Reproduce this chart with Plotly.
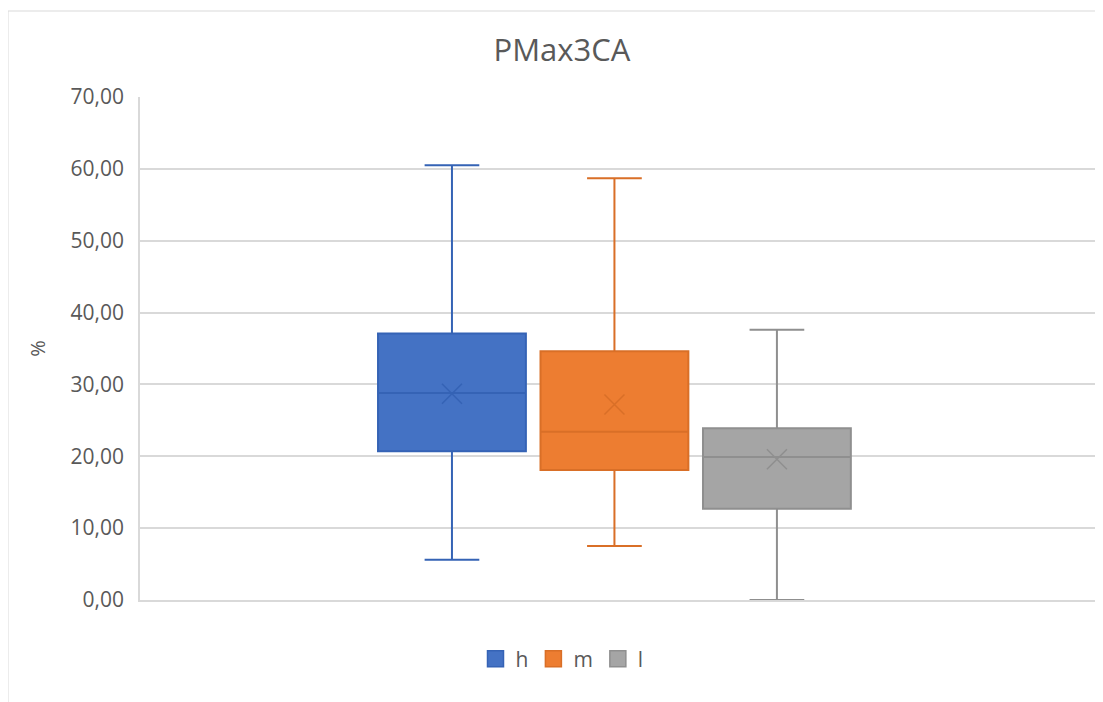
import plotly.graph_objects as go

categories = ["h", "m", "l"]
lower_whisker = [5.6, 7.5, 0.0]
q1_vals = [20.7, 18.1, 12.7]
medians = [28.8, 23.4, 19.9]
q3_vals = [37.1, 34.6, 23.9]
upper_whisker = [60.5, 58.7, 37.6]
means = [28.7, 27.2, 19.6]

fill_colors = ["#4472C4", "#ED7D31", "#A5A5A5"]
line_colors = ["#3563B5", "#D96F27", "#8F8F8F"]

fig = go.Figure()
for i, cat in enumerate(categories):
    fig.add_trace(go.Box(
        name=cat, x=[i], q1=[q1_vals[i]], median=[medians[i]], q3=[q3_vals[i]],
        lowerfence=[lower_whisker[i]], upperfence=[upper_whisker[i]],
        fillcolor=fill_colors[i], line=dict(color=line_colors[i], width=2),
        width=0.91, whiskerwidth=0.37, boxpoints=False, hoverinfo="skip",
        showlegend=False,
    ))
for i, cat in enumerate(categories):
    fig.add_trace(go.Scatter(
        x=[i], y=[means[i]], mode="markers", showlegend=False,
        marker=dict(symbol="x-thin", size=20, line=dict(color=line_colors[i], width=1.5)),
        hoverinfo="skip",
    ))
# legend entries
for i, cat in enumerate(categories):
    fig.add_trace(go.Scatter(
        name=cat, x=[None], y=[None], mode="markers", showlegend=True,
        marker=dict(symbol="square", size=20, color=fill_colors[i],
                    line=dict(color=line_colors[i], width=1.5)),
    ))

# chart area border (page offset by 8px body margin)
W, H = 1095, 694
ml, mt, mr, mb = 132, 89, 6, 102
pw = W - ml - mr
ph = H - mt - mb
fig.add_shape(type="rect", xref="paper", yref="paper",
              x0=(0 - ml) / pw, x1=1.3, y0=-0.5, y1=(ph + mt - 3) / ph,
              line=dict(color="#D9D9D9", width=1), fillcolor="rgba(0,0,0,0)", layer="below")

fig.update_layout(
    width=W, height=H,
    margin=dict(l=ml, r=mr, t=mt, b=mb),
    paper_bgcolor="white", plot_bgcolor="white",
    separators=", ",
    font=dict(family="Open Sans, Noto Sans, sans-serif", color="#595959", size=20),
    title=dict(text="PMax3CA", x=(562 - 8) / W, xanchor="center", y=1 - 42 / H, yanchor="middle",
               font=dict(size=31, color="#595959")),
    xaxis=dict(range=[-1.92, 3.97], showticklabels=False, showgrid=False, zeroline=False,
               showline=True, linecolor="#D9D9D9", linewidth=1.5, fixedrange=True),
    yaxis=dict(range=[0, 70], dtick=10, tickformat=".2f", showgrid=True, gridcolor="#D9D9D9",
               gridwidth=1.5, zeroline=False, showline=True, linecolor="#D9D9D9", linewidth=1.5,
               ticks="outside", ticklen=0, ticklabelstandoff=10,
               title=dict(text="%", standoff=20, font=dict(size=20)), tickfont=dict(size=21)),
    legend=dict(orientation="h", x=(562 - 140) / pw, xanchor="center", y=-59 / ph, yanchor="middle",
                font=dict(size=21), itemwidth=30, tracegroupgap=0),
    showlegend=True,
)

fig.write_html("out.html")
